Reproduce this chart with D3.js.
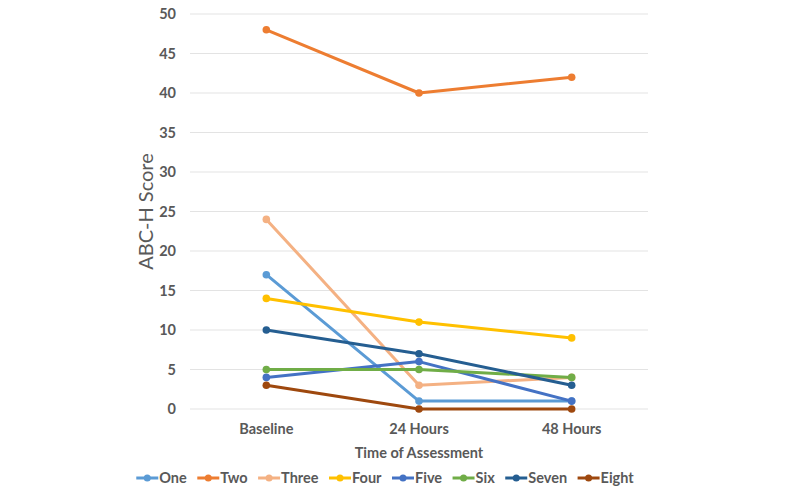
<!DOCTYPE html>
<html><head><meta charset="utf-8">
<script src="https://cdn.jsdelivr.net/npm/d3@7"></script>
<style>body{margin:0;background:#fff}svg{display:block}</style>
</head><body>
<svg id="c" width="800" height="492"></svg>
<script>
const categories = ["Baseline", "24 Hours", "48 Hours"];
const seriesNames = ["One","Two","Three","Four","Five","Six","Seven","Eight"];
const seriesColors = ["#5B9BD5","#ED7D31","#F4B183","#FFC000","#4472C4","#70AD47","#255E91","#9E480E"];
const one   = [17, 1, 1];
const two   = [48, 40, 42];
const three = [24, 3, 4];
const four  = [14, 11, 9];
const five  = [4, 6, 1];
const six   = [5, 5, 4];
const seven = [10, 7, 3];
const eight = [3, 0, 0];
const yTicks = [0,5,10,15,20,25,30,35,40,45,50];
const yTitle = "ABC-H Score";
const xTitle = "Time of Assessment";

(function(){
const seriesValues = [one,two,three,four,five,six,seven,eight];
const series = seriesNames.map((n,i)=>({name:n,color:seriesColors[i],values:seriesValues[i]}));

const svg = d3.select("#c");
const font = "Lato, 'Open Sans', sans-serif";
const pl = 190, pr = 648, pt = 14, pb = 409;
const x = d3.scaleBand().domain(categories).range([pl,pr]);
const y = d3.scaleLinear().domain([0,50]).range([pb,pt]);

svg.append("g").selectAll("line").data(yTicks).join("line")
  .attr("x1",pl).attr("x2",pr)
  .attr("y1",d=>y(d)).attr("y2",d=>y(d))
  .attr("stroke","#e3e3e3").attr("stroke-width",1);

const yAxis = svg.append("g").attr("transform",`translate(${pl},0)`)
  .call(d3.axisLeft(y).tickValues(yTicks).tickSize(0).tickPadding(14));
yAxis.select(".domain").remove();
yAxis.selectAll("text").attr("font-family",font).attr("font-size",14.5).attr("font-weight","bold").attr("fill","#595959");

const xAxis = svg.append("g").attr("transform",`translate(0,${pb})`)
  .call(d3.axisBottom(x).tickSize(0).tickPadding(15));
xAxis.select(".domain").remove();
xAxis.selectAll("text").attr("font-family",font).attr("font-size",14.5).attr("font-weight","bold").attr("fill","#595959");

svg.append("text").attr("x",(pl+pr)/2).attr("y",458).attr("text-anchor","middle")
  .attr("font-family",font).attr("font-size",14.5).attr("font-weight","bold").attr("fill","#595959").text(xTitle);
svg.append("text").attr("transform",`translate(153,${(pt+pb)/2}) rotate(-90)`).attr("text-anchor","middle")
  .attr("font-family",font).attr("font-size",20).attr("fill","#595959").text(yTitle);

const cx = c => x(c) + x.bandwidth()/2;
const line = d3.line().x((d,i)=>cx(categories[i])).y(d=>y(d));
const g = svg.append("g");
series.forEach(s=>{
  g.append("path").attr("d",line(s.values)).attr("fill","none")
    .attr("stroke",s.color).attr("stroke-width",3).attr("stroke-linejoin","round");
  g.selectAll(null).data(s.values).join("circle")
    .attr("cx",(d,i)=>cx(categories[i])).attr("cy",d=>y(d)).attr("r",3.8).attr("fill",s.color);
});

const leg = svg.append("g");
let lx = 0;
series.forEach(s=>{
  const it = leg.append("g").attr("transform",`translate(${lx},0)`);
  it.append("line").attr("x1",0).attr("x2",22).attr("y1",0).attr("y2",0).attr("stroke",s.color).attr("stroke-width",3);
  it.append("circle").attr("cx",11).attr("cy",0).attr("r",3.5).attr("fill",s.color);
  const t = it.append("text").attr("x",23).attr("y",5).attr("font-family",font).attr("font-size",14.5)
    .attr("font-weight","bold").attr("fill","#595959").text(s.name);
  lx += 23 + t.node().getComputedTextLength() + 10.5;
});
lx -= 10.5;
leg.attr("transform",`translate(${385 - lx/2},478)`);
})();
</script>
</body></html>
